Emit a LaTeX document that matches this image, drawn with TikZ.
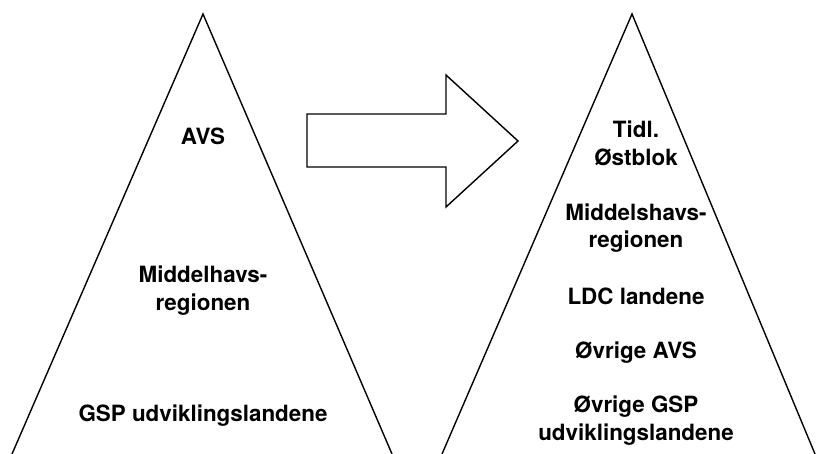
\documentclass[tikz,border=0pt]{standalone}
\usepackage{fontspec}
\setmainfont{TeX Gyre Heros}

\begin{document}
\begin{tikzpicture}[
    x=1pt, y=-1pt,
    region/.style={
        font=\bfseries\fontsize{22.4}{28}\selectfont,
        align=center,
        inner sep=0pt,
        anchor=base
    },
    pyramid/.style={line width=1.4pt, line join=miter},
    bigarrow/.style={line width=1.4pt, line join=miter}
]
\useasboundingbox (0,0) rectangle (816,454);

% Before
\draw[pyramid] (12,454) -- (203,14) -- (392,454);
\node[region] (avs) at (203,145) {AVS};
\node[region] (middel) at (203,310) {Middelhavs-\\regionen};
\node[region] (gsp) at (203,421) {GSP udviklingslandene};

% Shift
\draw[bigarrow] (307,114) -- (446,114) -- (446,75) -- (518,141)
    -- (446,207) -- (446,167) -- (307,167) -- cycle;

% After
\draw[pyramid] (442,454) -- (632,14) -- (815,454);
\node[region] (ost) at (636,166) {Tidl.\\Østblok};
\node[region] (middels) at (636,248) {Middelshavs-\\regionen};
\node[region] (ldc) at (636,304) {LDC landene};
\node[region] (avs2) at (636,358) {Øvrige AVS};
\node[region] (gsp2) at (636,440) {Øvrige GSP\\udviklingslandene};

\end{tikzpicture}
\end{document}
